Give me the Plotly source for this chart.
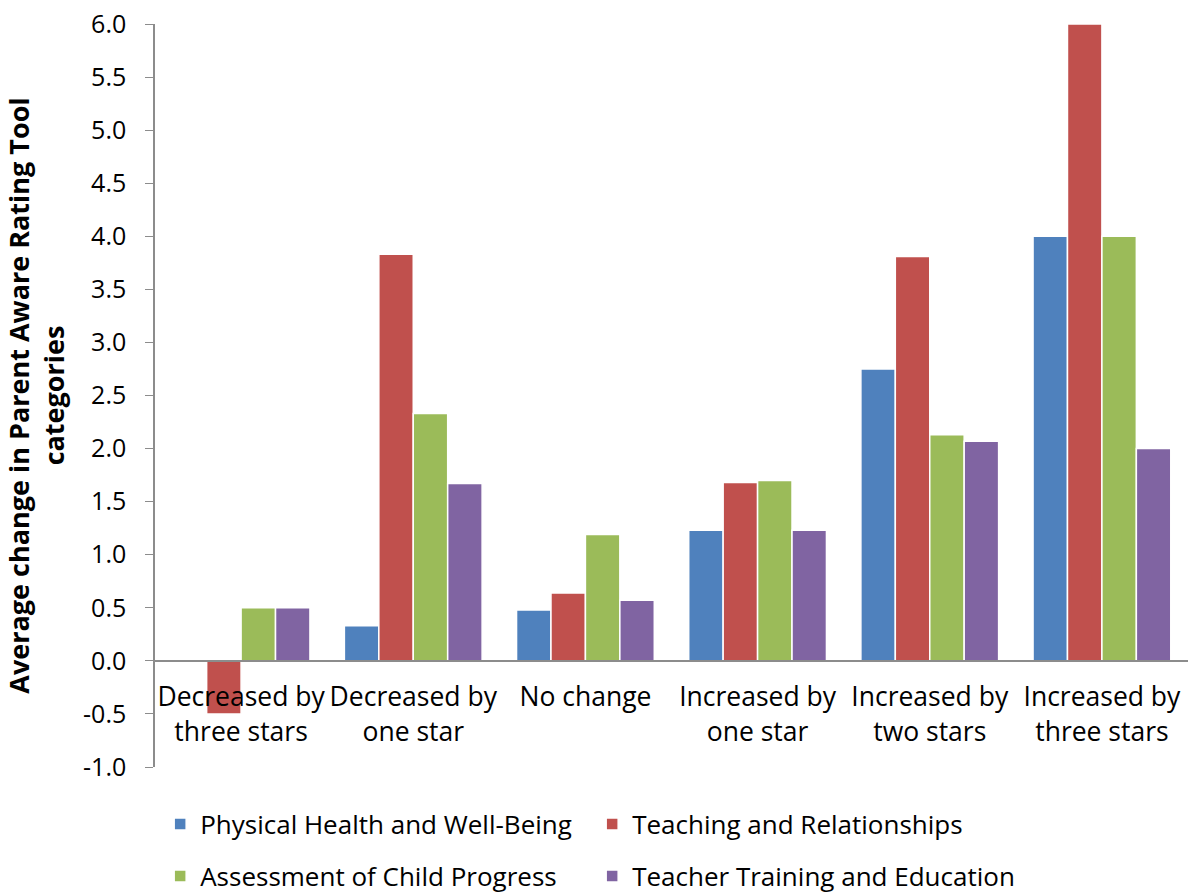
import plotly.graph_objects as go

categories = ["Decreased by<br>three stars", "Decreased by<br>one star", "No change",
              "Increased by<br>one star", "Increased by<br>two stars", "Increased by<br>three stars"]
series_names = ["Physical Health and Well-Being", "Teaching and Relationships",
                "Assessment of Child Progress", "Teacher Training and Education"]
physical = [0.0, 0.33, 0.48, 1.23, 2.75, 4.0]
teaching = [-0.5, 3.83, 0.64, 1.68, 3.81, 6.0]
assessment = [0.5, 2.33, 1.19, 1.70, 2.13, 4.0]
training = [0.5, 1.67, 0.57, 1.23, 2.07, 2.0]
colors = ["#4F81BD", "#C0504D", "#9BBB59", "#8064A2"]
ytick_vals = [-1.0, -0.5, 0.0, 0.5, 1.0, 1.5, 2.0, 2.5, 3.0, 3.5, 4.0, 4.5, 5.0, 5.5, 6.0]
ytick_text = ["-1.0", "-0.5", "0.0", "0.5", "1.0", "1.5", "2.0", "2.5", "3.0", "3.5",
              "4.0", "4.5", "5.0", "5.5", "6.0"]
legend_ids = ["legend", "legend", "legend2", "legend2"]

fig = go.Figure()
for name, vals, c, lg in zip(series_names, [physical, teaching, assessment, training], colors, legend_ids):
    fig.add_trace(go.Bar(x=categories, y=vals, name=name, marker_color=c, legend=lg,
                         marker_line=dict(color="white", width=1.5)))

legend_common = dict(orientation="h", x=0.005, xanchor="left", yanchor="middle",
                     entrywidth=387, entrywidthmode="pixels",
                     font=dict(family="Open Sans", size=26, color="#000000"),
                     bgcolor="rgba(0,0,0,0)")

fig.update_layout(
    width=1190, height=892,
    margin=dict(l=155, r=2, t=24, b=125, autoexpand=False),
    paper_bgcolor="white", plot_bgcolor="white",
    font=dict(family="Open Sans", size=25, color="#000000"),
    barmode="group", bargap=0.2, bargroupgap=0.0,
    showlegend=True,
    legend=dict(y=-0.077, **legend_common),
    legend2=dict(y=-0.147, **legend_common),
    xaxis=dict(anchor="free", position=1/7, showline=True, linecolor="#8C8C8C", linewidth=1.5,
               ticks="", tickfont=dict(size=26.5), tickangle=0, showgrid=False, zeroline=False,
               ticklabelstandoff=13),
    yaxis=dict(range=[-1, 6], tickvals=ytick_vals, ticktext=ytick_text, ticks="outside",
               ticklen=8, tickcolor="#8C8C8C", showline=True, linecolor="#8C8C8C",
               linewidth=1.5, showgrid=False, zeroline=False, tickfont=dict(size=25),
               ticklabelstandoff=14,
               title=dict(text="<b>Average change in Parent Aware Rating Tool<br>categories</b>",
                          font=dict(size=27), standoff=20)),
)
fig.write_html("out.html")
